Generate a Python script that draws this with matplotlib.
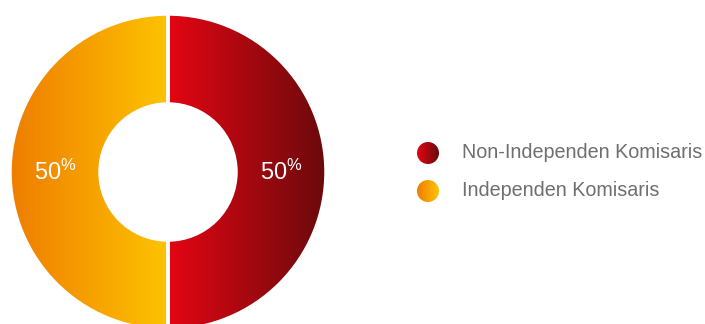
import numpy as np
import matplotlib
matplotlib.use("Agg")
import matplotlib.pyplot as plt
from matplotlib.colors import LinearSegmentedColormap
from matplotlib.patches import Circle

plt.rcParams['font.family'] = ['Liberation Sans', 'DejaVu Sans']
plt.rcParams['mathtext.fontset'] = 'custom'
plt.rcParams['mathtext.rm'] = 'Liberation Sans'
plt.rcParams['mathtext.it'] = 'Liberation Sans'

# data
labels = ["Non-Independen Komisaris", "Independen Komisaris"]
values = [50, 50]
# gradient (left colour, right colour) for each slice
gradients = [("#e30613", "#6a0a0c"), ("#ef7d00", "#fdc300")]

fig = plt.figure(figsize=(7.05, 3.24), dpi=100)
ax = fig.add_axes([0, 0, 1, 1])

cx, cy, R, hole = 168, 152, 158, 68
wedges, texts, autotexts = ax.pie(
    values, center=(cx, cy), radius=R, startangle=90, counterclock=False,
    wedgeprops=dict(width=R - hole, edgecolor="white", linewidth=2.5),
    autopct=lambda p: f"{p:.0f}$^{{\\%}}$", pctdistance=(R + hole) / 2 / R,
    textprops=dict(color="white", fontsize=17),
)

for w, (c0, c1) in zip(wedges, gradients):
    cmap = LinearSegmentedColormap.from_list("g", [c0, c1])
    # bounding box of the half ring
    t1, t2 = sorted([w.theta1, w.theta2])
    xs = cx + R * np.cos(np.radians(np.linspace(t1, t2, 50)))
    x0, x1 = min(xs.min(), cx), max(xs.max(), cx)
    grad = np.linspace(0, 1, 256).reshape(1, -1)
    im = ax.imshow(grad, extent=[x0, x1, cy - R, cy + R], cmap=cmap,
                   aspect="auto", zorder=1)
    im.set_clip_path(w)
    w.set_facecolor("none")
    w.set_zorder(2)

for t in autotexts:
    t.set_zorder(3)

# legend with gradient dots
for i, (lab, (c0, c1)) in enumerate(zip(labels, gradients)):
    ly = 171 - i * 38
    circ = Circle((428, ly), 11, facecolor="none", edgecolor="none")
    ax.add_patch(circ)
    cmap = LinearSegmentedColormap.from_list("g", [c0, c1])
    im = ax.imshow(np.linspace(0, 1, 64).reshape(1, -1),
                   extent=[417, 439, ly - 11, ly + 11], cmap=cmap,
                   aspect="auto", zorder=1)
    im.set_clip_path(circ)
    ax.text(462, ly, lab, fontsize=14.2, color="#6f6f6f", va="center", ha="left")

ax.set_xlim(0, 705)
ax.set_ylim(0, 324)
ax.set_aspect("auto")
ax.axis("off")

fig.savefig("out.png", dpi=100)
